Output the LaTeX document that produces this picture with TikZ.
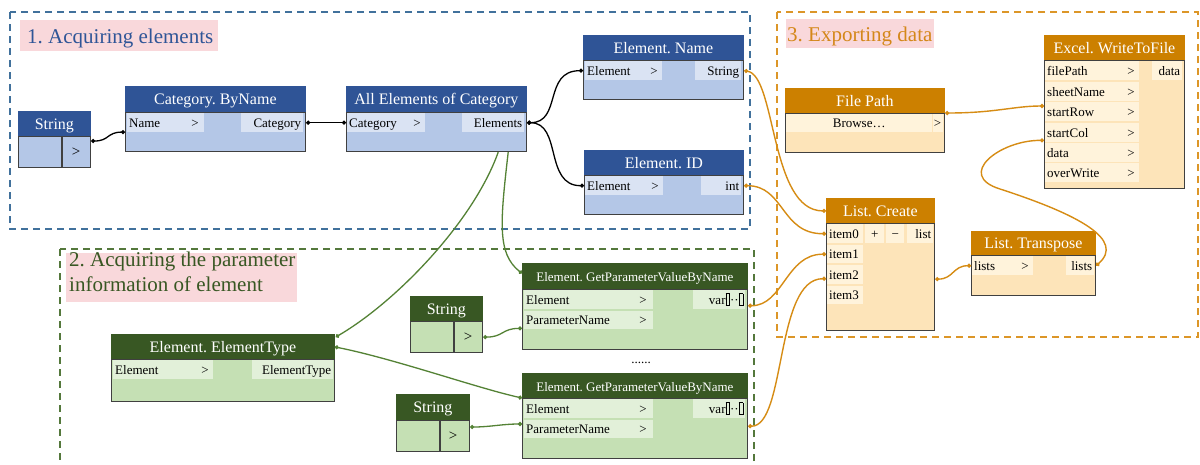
\documentclass[tikz,border=0pt]{standalone}
\usepackage{fontspec}
\setmainfont{Liberation Serif}
\usetikzlibrary{arrows.meta,calc}
\frenchspacing
\setlength\fboxsep{0pt}
\setlength\fboxrule{0.6pt}
\newcommand\tofu{\raisebox{-0.2ex}{\fbox{\rule{0pt}{1.9ex}\hspace{0.55ex}}}}
\newcommand\smallhead{\fontsize{13}{13}\selectfont}
\newcommand\bigfont{\fontsize{15}{15}\selectfont}
\definecolor{bhead}{RGB}{47,84,150}
\definecolor{bbody}{RGB}{180,199,231}
\definecolor{bcell}{RGB}{218,227,243}
\definecolor{bframe}{RGB}{65,113,156}
\definecolor{btext}{RGB}{47,85,151}
\definecolor{ghead}{RGB}{56,87,35}
\definecolor{gbody}{RGB}{197,224,180}
\definecolor{gcell}{RGB}{226,240,217}
\definecolor{gline}{RGB}{84,130,53}
\definecolor{gframe}{RGB}{84,120,60}
\definecolor{ohead}{RGB}{204,128,0}
\definecolor{obody}{RGB}{253,228,185}
\definecolor{ocell}{RGB}{255,243,219}
\definecolor{oline}{RGB}{214,140,20}
\definecolor{oframe}{RGB}{220,150,40}
\definecolor{otext}{RGB}{212,135,25}
\definecolor{pinkbg}{RGB}{249,216,219}
\definecolor{edge}{RGB}{64,64,64}
\tikzset{
  hdr/.style={anchor=north west, inner sep=0pt, fill=#1, draw=#1, line width=0.8pt,
    text=white, font=\fontsize{16}{16}\selectfont, text height=12pt, text depth=1.4pt},
  bdy/.style={anchor=north west, inner sep=0pt, fill=#1, draw=edge, line width=1.2pt},
  cbox/.style={anchor=north west, inner sep=0pt, fill=#1},
  ctext/.style={inner sep=2pt, font=\fontsize{13}{13}\selectfont, text=black},
  dframe/.style={dash pattern=on 7pt off 5pt, line width=1.6pt},
  splitline/.style={draw=edge, line width=1.2pt},
  ttlbox/.style={anchor=north west, fill=pinkbg, inner sep=0pt},
  ttl/.style={anchor=base west, inner sep=0pt, font=\fontsize{21}{25}\selectfont, align=left},
  bconn/.style={draw=black, line width=1.3pt, {Circle[length=4pt]}-{Circle[length=4pt]}},
  gconn/.style={draw=gline, line width=1.3pt, {Circle[length=4pt]}-{Circle[length=4pt]}},
  gconnb/.style={draw=gline, line width=1.3pt, -{Circle[length=4pt]}},
  oconn/.style={draw=oline, line width=1.4pt, {Circle[length=4pt]}-{Circle[length=4pt]}},
}
% name, prefix, x, y, w, header h, body h, title
\newcommand\dblock[8]{%
  \node[hdr=#2head, minimum width=#5, minimum height=#6] (#1-h) at (#3,#4) {#8};
  \node[bdy=#2body, minimum width=#5, minimum height=#7] (#1) at (#3,#4+#6) {};
}
% name, fill, x, y, w, h, text
\newcommand\cel[7]{%
  \node[cbox=#2, minimum width=#5, minimum height=#6] (#1) at (#3,#4) {};
  \node[ctext, anchor=base west] (#1-t) at ($(#1.west)+(0,4.5)$) {#7};
}
\newcommand\celr[7]{%
  \node[cbox=#2, minimum width=#5, minimum height=#6] (#1) at (#3,#4) {};
  \node[ctext, anchor=base east] (#1-t) at ($(#1.east)+(0,4.5)$) {#7};
}
\newcommand\celc[7]{%
  \node[cbox=#2, minimum width=#5, minimum height=#6] (#1) at (#3,#4) {};
  \node[ctext, anchor=base] (#1-t) at ($(#1.center)+(0,4.5)$) {#7};
}
\newcommand\gtn[3]{\node[ctext, anchor=base] (#1) at (#2,#3+4.5) {>};}
\begin{document}
\begin{tikzpicture}[x=1pt,y=-1pt]
\useasboundingbox (0,0) rectangle (1200,464);
\clip (0,0) rectangle (1200,464);
\fill[white] (0,0) rectangle (1200,464);

% group frames
\draw[dframe, draw=bframe] (10,12) rectangle (750,229);
\draw[dframe, draw=gframe] (60,249) rectangle (754,500);
\draw[dframe, draw=oframe] (777,12) rectangle (1198,337);

% titles
\node[ttlbox, minimum width=198, minimum height=31] (t1) at (20,20) {};
\node[ttl, text=btext] (t1-t) at (27,43) {1. Acquiring elements};
\node[ttlbox, minimum width=231, minimum height=49] (t2) at (66,253) {};
\node[ttl, text=ghead, anchor=north west] (t2-t) at (69,252) {2. Acquiring the parameter\\information of element};
\node[ttlbox, minimum width=148, minimum height=29] (t3) at (786,19) {};
\node[ttl, text=otext] (t3-t) at (787,41) {3. Exporting data};

% ---------- blue blocks ----------
\dblock{str1}{b}{18}{111}{72}{25}{31}{String}
\draw[splitline] ($(str1.north west)+(44,0)$) -- ($(str1.south west)+(44,0)$);
\node[ctext, font=\bigfont] (str1-gt) at (76,152) {>};

\dblock{cat}{b}{125}{86}{180}{26}{39}{Category. ByName}
\cel{cat-i}{bcell}{127}{113}{77}{19}{Name}
\gtn{cat-gt}{195}{122.5}
\celr{cat-o}{bcell}{241}{113}{62}{19}{Category}

\dblock{all}{b}{346}{86}{180}{26}{39}{All Elements of Category}
\cel{all-i}{bcell}{347}{113}{78}{19}{Category}
\gtn{all-gt}{417}{122.5}
\celr{all-o}{bcell}{462}{113}{62}{19}{Elements}

\dblock{ename}{b}{583}{35}{160}{25}{39}{Element. Name}
\cel{ename-i}{bcell}{585}{61}{77}{19}{Element}
\gtn{ename-gt}{654}{70.5}
\celr{ename-o}{bcell}{695}{61}{46}{19}{String}

\dblock{eid}{b}{584}{150}{159}{25}{39}{Element. ID}
\cel{eid-i}{bcell}{585}{176}{78}{19}{Element}
\gtn{eid-gt}{655}{185.5}
\celr{eid-o}{bcell}{701}{176}{40}{19}{int}

% ---------- green blocks ----------
\dblock{etype}{g}{111}{334}{223}{25}{42}{Element. ElementType}
\cel{etype-i}{gcell}{113}{360}{100}{19}{Element}
\gtn{etype-gt}{205}{369.5}
\celr{etype-o}{gcell}{252}{360}{81}{19}{ElementType}

\dblock{str2}{g}{410}{296}{72}{25}{31}{String}
\draw[splitline] ($(str2.north west)+(44,0)$) -- ($(str2.south west)+(44,0)$);
\node[ctext, font=\bigfont] (str2-gt) at (468,337) {>};

\dblock{gp1}{g}{522}{263}{225}{26}{60}{\smallhead Element. GetParameterValueByName}
\cel{gp1-i1}{gcell}{524}{290}{129}{19}{Element}
\gtn{gp1-g1}{643}{299.5}
\cel{gp1-i2}{gcell}{524}{311}{129}{18}{ParameterName}
\gtn{gp1-g2}{643}{320}
\celr{gp1-o}{gcell}{693}{290}{52}{19}{var\tofu··\tofu}

\node[ctext] (dots) at (641,363) {......};

\dblock{gp2}{g}{522}{373}{225}{25}{60}{\smallhead Element. GetParameterValueByName}
\cel{gp2-i1}{gcell}{524}{399}{129}{19}{Element}
\gtn{gp2-g1}{643}{408.5}
\cel{gp2-i2}{gcell}{524}{420}{129}{18}{ParameterName}
\gtn{gp2-g2}{643}{429}
\celr{gp2-o}{gcell}{693}{399}{52}{19}{var\tofu··\tofu}

\dblock{str3}{g}{396}{394}{73}{26}{31}{String}
\draw[splitline] ($(str3.north west)+(44,0)$) -- ($(str3.south west)+(44,0)$);
\node[ctext, font=\bigfont] (str3-gt) at (453,436) {>};

% ---------- orange blocks ----------
\dblock{fp}{o}{785}{88}{159}{25}{39}{File Path}
\celc{fp-c}{ocell}{786}{114}{146}{18}{Browse…}
\node[cbox=ocell, minimum width=10, minimum height=18] (fp-g) at (933,114) {};
\node[ctext, anchor=base] (fp-gt) at (937.5,127.5) {>};

\dblock{xls}{o}{1044}{35}{140}{25}{128}{Excel. WriteToFile}
\cel{xls-r1}{ocell}{1045}{61}{94}{19}{filePath}
\gtn{xls-g1}{1131}{70.5}
\cel{xls-r2}{ocell}{1045}{82}{94}{19}{sheetName}
\gtn{xls-g2}{1131}{91.5}
\cel{xls-r3}{ocell}{1045}{102}{94}{19}{startRow}
\gtn{xls-g3}{1131}{111.5}
\cel{xls-r4}{ocell}{1045}{123}{94}{19}{startCol}
\gtn{xls-g4}{1131}{132.5}
\cel{xls-r5}{ocell}{1045}{143}{94}{19}{data}
\gtn{xls-g5}{1131}{152.5}
\cel{xls-r6}{ocell}{1045}{163}{94}{19}{overWrite}
\gtn{xls-g6}{1131}{172.5}
\celr{xls-o}{ocell}{1152}{61}{30}{19}{data}

\dblock{lc}{o}{826}{198}{108}{25}{107}{List. Create}
\cel{lc-i0}{ocell}{827}{224}{36}{19}{item0}
\celc{lc-p}{ocell}{865}{224}{19}{19}{+}
\celc{lc-m}{ocell}{886}{224}{18}{19}{−}
\celr{lc-o}{ocell}{907}{224}{26}{19}{list}
\cel{lc-i1}{ocell}{827}{245}{36}{18}{item1}
\cel{lc-i2}{ocell}{827}{265}{36}{19}{item2}
\cel{lc-i3}{ocell}{827}{286}{36}{18}{item3}

\dblock{lt}{o}{971}{231}{124}{24}{40}{List. Transpose}
\cel{lt-i}{ocell}{972}{256}{61}{19}{lists}
\gtn{lt-g}{1025}{265.5}
\celr{lt-o}{ocell}{1066}{256}{28}{19}{lists}

% ---------- connectors ----------
\draw[bconn] ($(str1.north east)+(0,5)$) .. controls +(18,0) and +(-18,0) .. (cat.west);
\draw[bconn] (cat.east |- cat-o) .. controls +(20,0) and +(-20,0) .. (all.west |- all-i);
\draw[bconn] (all.east |- all-o) .. controls +(35,0) and +(-40,0) .. (ename.west |- ename-i);
\draw[bconn] (all.east |- all-o) .. controls +(35,0) and +(-40,0) .. (eid.west |- eid-i);

\draw[gconnb] ($(all.south east)+(-29,0)$) .. controls +(-25,70) and +(60,-35) .. ($(etype-h.north east)+(1,3)$);
\draw[gconnb] ($(all.south east)+(-19,0)$) .. controls +(-8,70) and +(-25,-20) .. ($(gp1-h.west)+(0,-3)$);
\draw[gconn] (etype-h.east) .. controls +(60,12) and +(-45,-10) .. (gp2.north west);
\draw[gconn] (str2.east) .. controls +(20,0) and +(-20,0) .. ($(gp1-i2.south west)+(-2,-1)$);
\draw[gconn] ($(str3.north east)+(0,7)$) .. controls +(20,0) and +(-20,0) .. ($(gp2-i2.north west)+(-2,4)$);

\draw[oconn] (ename.east |- ename-o) .. controls +(32,5) and +(-56,0) .. (lc-h.west);
\draw[oconn] (eid.east |- eid-o) .. controls +(40,0) and +(-45,0) .. (lc.west |- lc-i0);
\draw[oconn] ($(gp1.east |- gp1-o)+(0,6)$) .. controls +(35,0) and +(-40,0) .. (lc.west |- lc-i1);
\draw[oconn] ($(gp2.east |- gp2-i2)+(0,-3)$) .. controls +(38,0) and +(-51,0) .. ($(lc.west |- lc-i2)+(0,4)$);
\draw[oconn] ($(lc.east)+(0,2)$) .. controls +(18,0) and +(-18,0) .. (lt.west |- lt-i);
\draw[oconn] (fp.north east) .. controls +(50,0) and +(-30,0) .. ($(xls-r3.north west)+(-1,4)$);
\draw[oconn] (lt.east |- lt-o) .. controls (1125,240) and (1080,215) .. (1000,189) .. controls (955,175) and (1000,140) .. ($(xls-r4.south west)+(-1,-2)$);
\end{tikzpicture}
\end{document}
